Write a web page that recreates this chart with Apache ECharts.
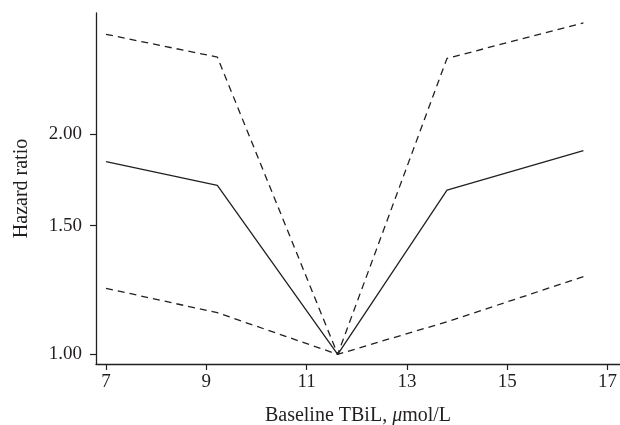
<!DOCTYPE html>
<html>
<head>
<meta charset="utf-8">
<script src="https://cdn.jsdelivr.net/npm/echarts@6/dist/echarts.min.js"></script>
<style>
  html, body { margin: 0; padding: 0; background: #fff; }
  #chart { width: 620px; height: 425px; }
</style>
</head>
<body>
<div id="chart"></div>
<script>
// baseline TBiL (umol/L) at the spline knots
var tbil = [7, 9.22, 11.62, 13.8, 16.52];
// hazard ratio and its 95% CI
var hr = [1.835, 1.703, 1, 1.677, 1.9];
var upper = [2.74, 2.55, 1, 2.54, 2.84];
var lower = [1.231, 1.14, 1, 1.108, 1.277];
var xTicks = [7, 9, 11, 13, 15, 17];
var yTicks = [1, 1.5, 2];

function pairs(ys) {
  return tbil.map(function (x, i) { return [x, ys[i]]; });
}

var font = "Liberation Serif";
var ink = "#231f20";

var myChart = echarts.init(document.getElementById("chart"));
myChart.setOption({
  animation: false,
  grid: { left: 96, right: 0, top: 13, bottom: 61, containLabel: false, outerBoundsMode: "none" },
  xAxis: {
    type: "value",
    min: 6.8,
    max: 17.25,
    name: "Baseline TBiL, {i|μ}mol/L",
    nameLocation: "middle",
    nameGap: 42,
    nameTextStyle: {
      fontFamily: font, fontSize: 20, color: ink,
      rich: { i: { fontFamily: font, fontSize: 20, fontStyle: "italic", color: ink } }
    },
    axisLine: { lineStyle: { color: ink, width: 1.3 } },
    axisTick: { customValues: xTicks, length: 6, lineStyle: { color: ink, width: 1.2 } },
    axisLabel: { customValues: xTicks, margin: 9, fontFamily: font, fontSize: 19, color: ink },
    splitLine: { show: false }
  },
  yAxis: {
    type: "log",
    min: 0.97,
    max: 2.93,
    name: "Hazard ratio",
    nameLocation: "middle",
    nameGap: 64,
    nameTextStyle: { fontFamily: font, fontSize: 20, color: ink },
    axisLine: { show: true, lineStyle: { color: ink, width: 1.3 } },
    axisTick: { show: true, customValues: yTicks, length: 6, lineStyle: { color: ink, width: 1.2 } },
    axisLabel: {
      customValues: yTicks, margin: 14, fontFamily: font, fontSize: 19, color: ink,
      formatter: function (v) { return Number(v).toFixed(2); }
    },
    splitLine: { show: false }
  },
  series: [
    {
      name: "HR", type: "line", data: pairs(hr), symbol: "none",
      lineStyle: { color: ink, width: 1.3 }
    },
    {
      name: "Upper", type: "line", data: pairs(upper), symbol: "none",
      lineStyle: { color: ink, width: 1.3, type: [7, 5] }
    },
    {
      name: "Lower", type: "line", data: pairs(lower), symbol: "none",
      lineStyle: { color: ink, width: 1.3, type: [7, 5] }
    }
  ]
});
</script>
</body>
</html>
